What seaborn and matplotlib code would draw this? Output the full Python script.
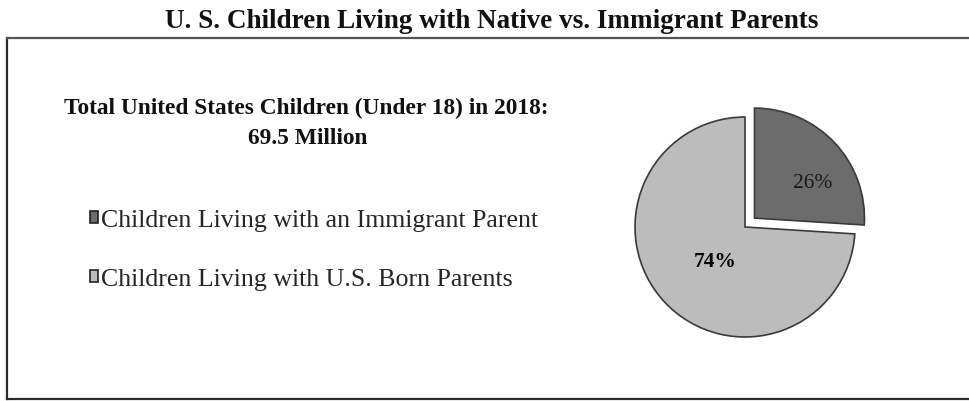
import matplotlib
matplotlib.use("Agg")
import matplotlib.pyplot as plt
import seaborn as sns
import math

# ---- data ----
title = "U. S. Children Living with Native vs. Immigrant Parents"
subtitle_lines = ["Total United States Children (Under 18) in 2018:", "69.5 Million"]
categories = ["Children Living with an Immigrant Parent", "Children Living with U.S. Born Parents"]
shares = [26, 74]
explode_amounts = [0.13, 0.0]

sns.set_theme(style="white")
plt.rcParams["font.family"] = ["Liberation Serif", "DejaVu Serif"]

colors = sns.color_palette(["#6c6c6c", "#bcbcbc"])

W, H = 969, 402
fig = plt.figure(figsize=(W / 100, H / 100), dpi=100)
fig.patch.set_facecolor("white")

# frame (background axes with three spines)
bg = fig.add_axes([7 / W, 2 / H, 1.0, (400 - 39) / H])
bg.set_xticks([]); bg.set_yticks([])
bg.set_facecolor("none")
for side in ["left", "bottom"]:
    bg.spines[side].set_color("#2a2a2a"); bg.spines[side].set_linewidth(1.6)
bg.spines["top"].set_color("#555555"); bg.spines["top"].set_linewidth(1.6)
bg.spines["right"].set_visible(False)

# title
fig.text(492 / W, 1 - 21 / H, title, ha="center", va="center",
         fontsize=19.5, fontweight="bold", color="#111111")

# subtitle
fig.text(306 / W, 1 - 108 / H, subtitle_lines[0], ha="center", va="center",
         fontsize=16.8, fontweight="bold", color="#111111")
fig.text(308 / W, 1 - 138 / H, subtitle_lines[1], ha="center", va="center",
         fontsize=16.8, fontweight="bold", color="#111111")

# pie
cx, cy = 745, H - 228
size = 300
ax = fig.add_axes([(cx - size / 2) / W, (cy - size / 2) / H, size / W, size / H])
wedges, texts = ax.pie(shares, explode=explode_amounts, colors=colors, startangle=90,
                       counterclock=False, radius=1.1,
                       wedgeprops=dict(edgecolor="#3a3a3a", linewidth=1.2))
ax.set_xlim(-1.5, 1.5); ax.set_ylim(-1.5, 1.5)
ax.set_aspect("equal")
ax.axis("off")

label_dist = [0.62, 0.41]
label_ang_shift = [-12, 6]
label_weight = ["normal", "bold"]
label_color = ["#1a1a1a", "#000000"]
for w, v, d, s, fw, c in zip(wedges, shares, label_dist, label_ang_shift, label_weight, label_color):
    ang = math.radians((w.theta1 + w.theta2) / 2 + s)
    x0, y0 = w.center
    ax.text(x0 + d * w.r * math.cos(ang), y0 + d * w.r * math.sin(ang), f"{v}%",
            ha="center", va="center", fontsize=15.5, fontweight=fw, color=c)

# legend
leg = fig.legend(wedges, categories, loc="upper left",
                 bbox_to_anchor=(77 / W, 1 - 197 / H), frameon=False,
                 fontsize=18.6, handlelength=0.33, handleheight=0.33,
                 handletextpad=0.1, labelspacing=1.45, borderpad=0)
for h in leg.legend_handles:
    h.set_edgecolor("#222222")

fig.savefig("out.png", dpi=100, facecolor="white")
